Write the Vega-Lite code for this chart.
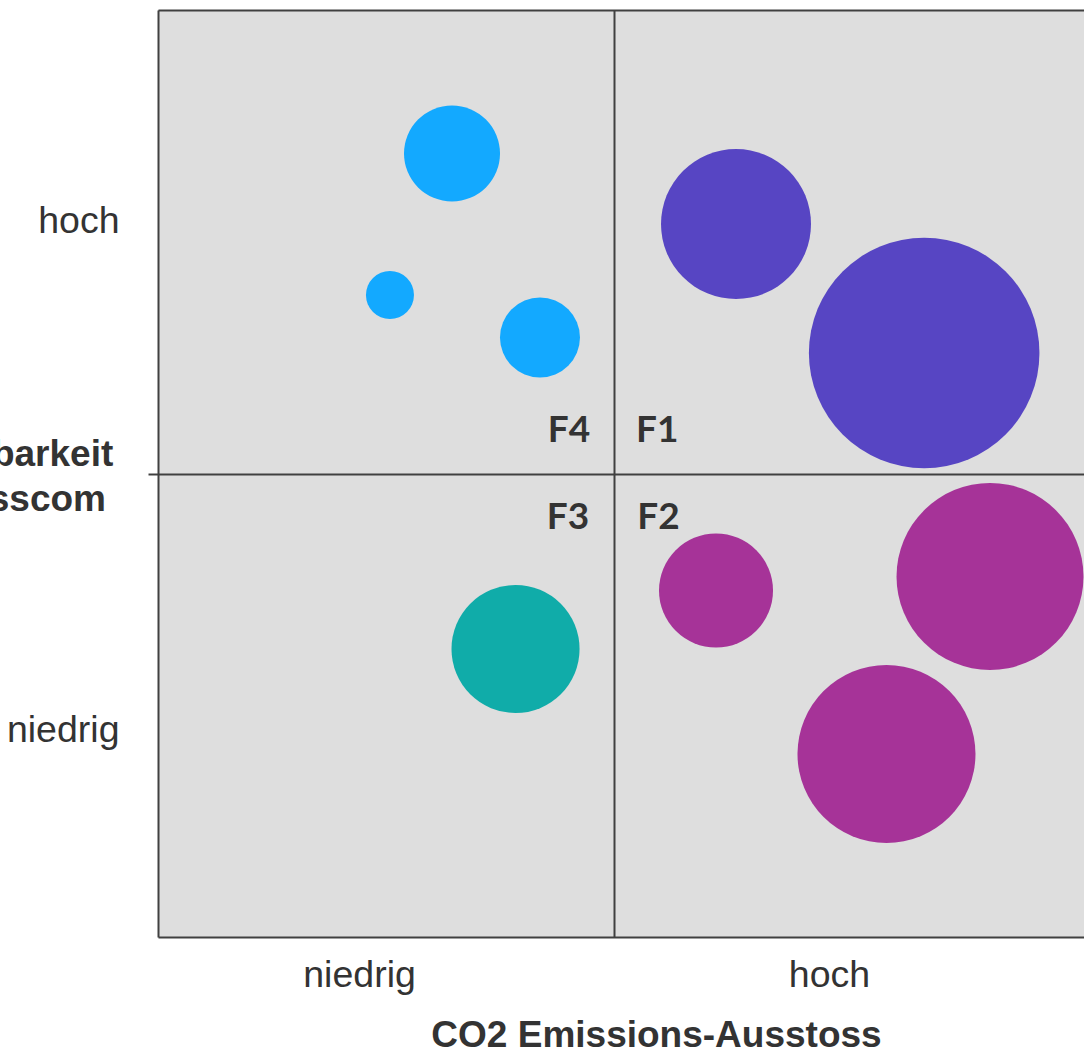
{
  "$schema": "https://vega.github.io/schema/vega-lite/v6.json",
  "width": 926,
  "height": 927,
  "autosize": {"type": "none"},
  "padding": {"left": 158, "top": 10, "right": 0, "bottom": 114},
  "background": "white",
  "config": {"view": {"fill": "#DEDEDE", "stroke": null}},
  "encoding": {
    "x": {
      "field": "co2",
      "type": "quantitative",
      "scale": {"domain": [0, 10], "nice": false, "zero": false},
      "axis": {
        "values": [2.171, 4.925, 7.246],
        "labelExpr": "datum.value < 4 ? 'niedrig' : (datum.value > 6 ? 'hoch' : '')",
        "labelFont": "Liberation Sans",
        "labelFontSize": 37.5,
        "labelColor": "#333333",
        "labelBaseline": "alphabetic",
        "labelPadding": 49,
        "labelOverlap": false,
        "labelFlush": false,
        "ticks": false,
        "tickSize": 0,
        "domain": true,
        "domainColor": "#404040",
        "domainWidth": 2,
        "grid": true,
        "gridColor": "#404040",
        "gridWidth": 2,
        "gridOpacity": {"condition": {"test": "abs(datum.value - 4.925) < 0.01", "value": 1}, "value": 0},
        "title": "CO2 Emissions-Ausstoss",
        "titleFont": "Liberation Sans",
        "titleFontSize": 37,
        "titleFontWeight": "bold",
        "titleColor": "#333333",
        "titleX": 498,
        "titleY": 109,
        "titleAlign": "center",
        "titleBaseline": "alphabetic"
      }
    },
    "y": {
      "field": "einfluss",
      "type": "quantitative",
      "scale": {"domain": [0, 10], "nice": false, "zero": false},
      "axis": {
        "values": [2.104, 5, 7.605, 10],
        "labelExpr": "datum.value > 7 && datum.value < 9 ? 'hoch' : (datum.value < 3 ? 'niedrig' : '')",
        "labelFont": "Liberation Sans",
        "labelFontSize": 37.5,
        "labelColor": "#333333",
        "labelBaseline": "alphabetic",
        "labelPadding": 29,
        "labelOverlap": false,
        "labelFlush": false,
        "ticks": true,
        "tickSize": 10,
        "tickColor": "#404040",
        "tickWidth": 2,
        "tickOpacity": {"condition": {"test": "abs(datum.value - 5) < 0.01", "value": 1}, "value": 0},
        "domain": true,
        "domainColor": "#404040",
        "domainWidth": 2,
        "grid": true,
        "gridColor": "#404040",
        "gridWidth": 2,
        "gridOpacity": {"condition": {"test": "abs(datum.value - 5) < 0.01 || abs(datum.value - 10) < 0.01", "value": 1}, "value": 0},
        "title": ["Beeinflussbarkeit", "durch Swisscom"],
        "titleFont": "Liberation Sans",
        "titleFontSize": 37,
        "titleFontWeight": "bold",
        "titleColor": "#333333",
        "titleAngle": 0,
        "titleAlign": "center",
        "titleBaseline": "alphabetic",
        "titleLineHeight": 45,
        "titleX": -199.5,
        "titleY": 455
      }
    }
  },
  "layer": [
    {
      "data": {
        "values": [
          {"gruppe": "F4", "co2": 3.175, "einfluss": 8.452, "groesse": 23.04},
          {"gruppe": "F4", "co2": 2.505, "einfluss": 6.926, "groesse": 5.76},
          {"gruppe": "F4", "co2": 4.125, "einfluss": 6.467, "groesse": 16.0},
          {"gruppe": "F1", "co2": 6.242, "einfluss": 7.691, "groesse": 56.25},
          {"gruppe": "F1", "co2": 8.274, "einfluss": 6.300, "groesse": 132.9},
          {"gruppe": "F2", "co2": 8.985, "einfluss": 3.889, "groesse": 87.4},
          {"gruppe": "F2", "co2": 6.026, "einfluss": 3.738, "groesse": 32.5},
          {"gruppe": "F2", "co2": 7.867, "einfluss": 1.974, "groesse": 79.2},
          {"gruppe": "F3", "co2": 3.861, "einfluss": 3.107, "groesse": 41.0}
        ]
      },
      "mark": {"type": "circle", "opacity": 1, "strokeWidth": 0},
      "encoding": {
        "size": {
          "field": "groesse",
          "type": "quantitative",
          "scale": {"type": "linear", "domain": [0, 100], "range": [0, 40000], "zero": true},
          "legend": null
        },
        "color": {
          "field": "gruppe",
          "type": "nominal",
          "scale": {"domain": ["F1", "F2", "F3", "F4"], "range": ["#5745C3", "#A63398", "#10ACA9", "#13A9FF"]},
          "legend": null
        }
      }
    },
    {
      "data": {
        "values": [
          {"feld": "F4", "co2": 4.438, "einfluss": 5.337},
          {"feld": "F1", "co2": 5.392, "einfluss": 5.337},
          {"feld": "F3", "co2": 4.428, "einfluss": 4.398},
          {"feld": "F2", "co2": 5.405, "einfluss": 4.398}
        ]
      },
      "mark": {"type": "text", "font": "Lato", "fontWeight": "bold", "fontSize": 37, "color": "#333333", "align": "center", "baseline": "alphabetic"},
      "encoding": {
        "text": {"field": "feld", "type": "nominal"}
      }
    }
  ]
}
